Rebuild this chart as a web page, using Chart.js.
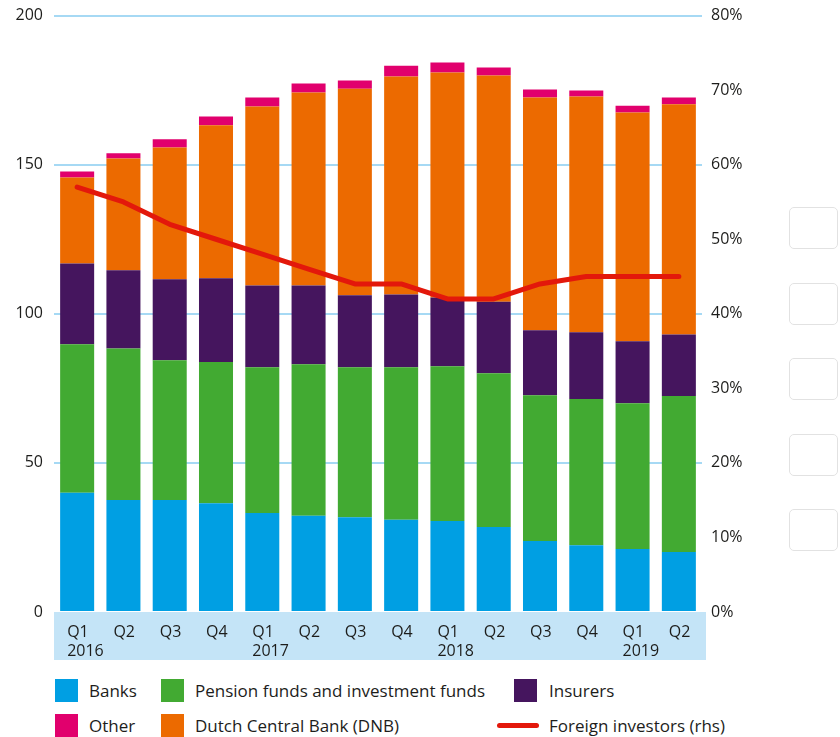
<!DOCTYPE html>
<html>
<head>
<meta charset="utf-8">
<script src="https://cdn.jsdelivr.net/npm/chart.js@4.4.1/dist/chart.umd.min.js"></script>
<style>
  body { margin: 0; background: #fff; }
  #wrap { position: relative; width: 840px; height: 737px; overflow: hidden; font-family: 'Open Sans', sans-serif; color: #1d1d1b; }
  #chart { position: absolute; left: 0; top: -5px; }
  .item { position: absolute; font-size: 17px; line-height: 23px; white-space: nowrap; }
  .sw { position: absolute; top: 0; width: 23px; height: 23px; }
  .ln { position: absolute; top: 9px; height: 5px; border-radius: 3px; }
  .box { position: absolute; left: 789px; width: 47px; height: 40px; border: 1.5px solid #e2e2e2; border-radius: 5px; }
</style>
</head>
<body>
<div id="wrap">
  <canvas id="chart" width="840" height="675"></canvas>
  <div id="legend"></div>
  <div class="box" style="top:207px"></div>
  <div class="box" style="top:283px"></div>
  <div class="box" style="top:358px"></div>
  <div class="box" style="top:434px"></div>
  <div class="box" style="top:509px"></div>
</div>
<script>
// x axis
const quarters = ['Q1', 'Q2', 'Q3', 'Q4', 'Q1', 'Q2', 'Q3', 'Q4', 'Q1', 'Q2', 'Q3', 'Q4', 'Q1', 'Q2'];
const years = ['2016', '', '', '', '2017', '', '', '', '2018', '', '', '', '2019', ''];

// stacked bars, bottom to top (left axis)
const banks = [40.0, 37.6, 37.6, 36.5, 33.2, 32.3, 31.8, 30.9, 30.5, 28.5, 23.8, 22.4, 21.1, 20.1];
const pension = [49.8, 50.8, 46.8, 47.3, 48.9, 50.8, 50.3, 51.2, 51.9, 51.6, 48.9, 49.0, 48.9, 52.3];
const insurers = [27.1, 26.2, 27.2, 28.1, 27.4, 26.4, 24.1, 24.4, 23.1, 23.9, 21.8, 22.4, 20.8, 20.7];
const dnb = [28.8, 37.5, 44.2, 51.3, 60.0, 64.7, 69.3, 73.1, 75.4, 75.9, 78.0, 79.1, 76.7, 77.2];
const other = [2.0, 1.7, 2.7, 3.0, 3.0, 3.0, 2.7, 3.6, 3.4, 2.7, 2.7, 2.0, 2.3, 2.2];

// line, right axis (%)
const foreign = [57, 55, 52, 50, 48, 46, 44, 44, 42, 42, 44, 45, 45, 45];

const leftTicks = [0, 50, 100, 150, 200];
const rightTicks = [0, 10, 20, 30, 40, 50, 60, 70, 80];

const colors = {
  banks: '#009fe3',
  pension: '#42aa32',
  insurers: '#45155e',
  dnb: '#ec6a00',
  other: '#e1006d',
  foreign: '#e3180b'
};

const labels = quarters.map((q, i) => years[i] ? [q, years[i]] : q);
const font = { family: "'Open Sans', sans-serif", size: 16 };
const textColor = '#1d1d1b';

// light blue band behind the quarter labels
const bandPlugin = {
  id: 'band',
  beforeDraw(chart) {
    const { ctx, chartArea } = chart;
    ctx.save();
    ctx.fillStyle = '#c4e4f7';
    ctx.fillRect(chartArea.left, chartArea.bottom, chartArea.right - chartArea.left + 4, 48);
    ctx.restore();
  }
};

function bar(label, data, color) {
  return {
    type: 'bar',
    label: label,
    data: data,
    backgroundColor: color,
    borderWidth: 0,
    stack: 's',
    yAxisID: 'y',
    order: 1,
    barPercentage: 0.735,
    categoryPercentage: 1
  };
}

new Chart(document.getElementById('chart'), {
  data: {
    labels: labels,
    datasets: [
      bar('Banks', banks, colors.banks),
      bar('Pension funds and investment funds', pension, colors.pension),
      bar('Insurers', insurers, colors.insurers),
      bar('Dutch Central Bank (DNB)', dnb, colors.dnb),
      bar('Other', other, colors.other),
      {
        type: 'line',
        label: 'Foreign investors (rhs)',
        data: foreign,
        yAxisID: 'y1',
        borderColor: colors.foreign,
        borderWidth: 5,
        borderCapStyle: 'round',
        borderJoinStyle: 'round',
        pointRadius: 0,
        tension: 0,
        fill: false,
        order: 0
      }
    ]
  },
  options: {
    responsive: false,
    animation: false,
    layout: { padding: { top: 10, left: 0, right: 0, bottom: 0 } },
    plugins: { legend: { display: false }, tooltip: { enabled: false } },
    scales: {
      x: {
        stacked: true,
        grid: { display: false },
        border: { display: false },
        ticks: {
          color: textColor, font: font, align: 'start', labelOffset: -10,
          padding: 3, maxRotation: 0, autoSkip: false
        },
        afterFit(scale) { scale.height = 58; }
      },
      y: {
        stacked: true,
        position: 'left',
        min: 0,
        max: 200,
        afterBuildTicks(scale) { scale.ticks = leftTicks.map(v => ({ value: v })); },
        grid: {
          color: ctx => ctx.tick && ctx.tick.value === 0 ? 'rgba(0,0,0,0)' : '#a6d9f4',
          lineWidth: 2,
          drawTicks: false
        },
        border: { display: false },
        ticks: { color: textColor, font: font, padding: 11 },
        afterFit(scale) { scale.width = 54; }
      },
      y1: {
        position: 'right',
        min: 0,
        max: 80,
        afterBuildTicks(scale) { scale.ticks = rightTicks.map(v => ({ value: v })); },
        grid: { drawOnChartArea: false, drawTicks: false },
        border: { display: false },
        ticks: { color: textColor, font: font, padding: 9, callback: v => v + '%' },
        afterFit(scale) { scale.width = 138; }
      }
    }
  },
  plugins: [bandPlugin]
});

// legend, two rows as in the original
const legendItems = [
  { label: 'Banks', color: colors.banks, x: 55, y: 679 },
  { label: 'Pension funds and investment funds', color: colors.pension, x: 161, y: 679 },
  { label: 'Insurers', color: colors.insurers, x: 514, y: 679 },
  { label: 'Other', color: colors.other, x: 55, y: 714 },
  { label: 'Dutch Central Bank (DNB)', color: colors.dnb, x: 161, y: 714 },
  { label: 'Foreign investors (rhs)', color: colors.foreign, x: 497, y: 714, line: true }
];
const legend = document.getElementById('legend');
legendItems.forEach(it => {
  const d = document.createElement('div');
  d.className = 'item';
  d.style.top = it.y + 'px';
  const textLeft = it.line ? 549 : it.x + 34 + (it.x === 514 ? 1 : 0);
  d.style.left = it.x + 'px';
  d.style.paddingLeft = (textLeft - it.x) + 'px';
  const m = document.createElement('span');
  if (it.line) {
    m.className = 'ln';
    m.style.left = '0px';
    m.style.width = '42px';
  } else {
    m.className = 'sw';
    m.style.left = '0px';
  }
  m.style.background = it.color;
  d.appendChild(m);
  d.appendChild(document.createTextNode(it.label));
  legend.appendChild(d);
});
</script>
</body>
</html>
